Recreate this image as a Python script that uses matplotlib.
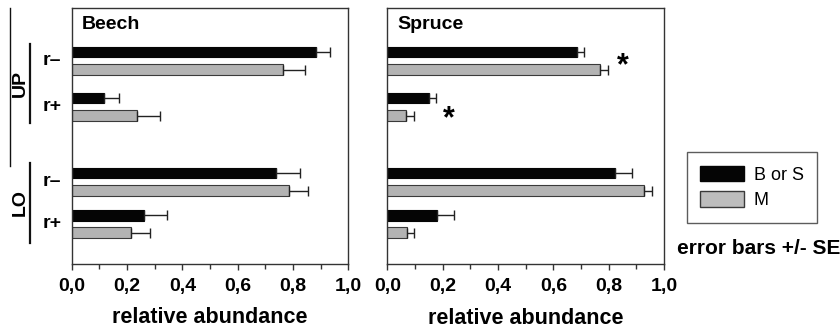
import numpy as np
import matplotlib
matplotlib.use('Agg')
from matplotlib import pyplot as plt
from matplotlib.patches import Patch
from matplotlib.lines import Line2D

plt.rcParams['font.family'] = ['Liberation Sans', 'DejaVu Sans']

# rows top to bottom: UP r-, UP r+, LO r-, LO r+
row_labels = ['r\u2013', 'r+', 'r\u2013', 'r+']
group_labels = ['UP', 'LO']
panels = ['Beech', 'Spruce']

beech_bs = [0.883, 0.118, 0.740, 0.261]
beech_bs_se = [0.052, 0.052, 0.084, 0.084]
beech_m = [0.763, 0.237, 0.786, 0.214]
beech_m_se = [0.080, 0.083, 0.069, 0.070]

spruce_bs = [0.685, 0.151, 0.824, 0.178]
spruce_bs_se = [0.025, 0.026, 0.062, 0.063]
spruce_m = [0.768, 0.068, 0.928, 0.072]
spruce_m_se = [0.031, 0.028, 0.027, 0.024]

# significance marks on spruce
star_x = [0.852, 0.224]

legend_labels = ['B or S', 'M']
black = '#050505'
grey = '#b3b3b3'
edge_grey = '#3a3a3a'

# layout: row centres in axis "pixel" units (0 = top of axes, 256 = bottom)
row_pos = np.array([52.5, 98.4, 173.5, 215.7])
star_y = [57.7, 111.4]
off = 8.8
bar_h = 10.7

fig = plt.figure(figsize=(8.4, 3.29), dpi=100)
ax_l = fig.add_axes([0.0854, 0.1967, 0.3293, 0.778])
ax_r = fig.add_axes([0.4611, 0.1967, 0.3294, 0.778])

data = [(beech_bs, beech_bs_se, beech_m, beech_m_se),
        (spruce_bs, spruce_bs_se, spruce_m, spruce_m_se)]

for ax, name, (bs, bs_se, m, m_se) in zip([ax_l, ax_r], panels, data):
    ax.barh(row_pos - off, bs, height=bar_h, color=black, edgecolor=black, linewidth=0.8,
            xerr=[np.zeros(4), bs_se], error_kw=dict(ecolor='#222222', elinewidth=1.0, capsize=3.5, capthick=1.0))
    ax.barh(row_pos + off, m, height=bar_h, color=grey, edgecolor=edge_grey, linewidth=0.8,
            xerr=[np.zeros(4), m_se], error_kw=dict(ecolor='#222222', elinewidth=1.0, capsize=3.5, capthick=1.0))
    ax.set_xlim(0, 1.0)
    ax.set_ylim(256, 0)
    ax.set_yticks([])
    ax.set_xticks(np.arange(0, 1.01, 0.2))
    ax.set_xticks(np.arange(0.1, 1.0, 0.2), minor=True)
    ax.set_xticklabels([f'{v:.1f}'.replace('.', ',') for v in np.arange(0, 1.01, 0.2)],
                       fontsize=14, fontweight='bold')
    ax.tick_params(axis='x', which='major', length=4, width=1, color='#333333', pad=6)
    ax.tick_params(axis='x', which='minor', length=3.5, width=1, color='#333333')
    for sp in ax.spines.values():
        sp.set_color('#333333')
        sp.set_linewidth(1.0)
    ax.text(0.036, 0.935, name, transform=ax.transAxes, fontsize=14, fontweight='bold',
            ha='left', va='center')

ax_l.set_xlabel('relative abundance', fontsize=15.5, fontweight='bold', labelpad=8.5)
ax_r.set_xlabel('relative abundance', fontsize=15.5, fontweight='bold', labelpad=9.2)

for sx, sy in zip(star_x, star_y):
    ax_r.text(sx, sy, '*', fontsize=22, fontweight='bold', ha='center', va='center')

# row and group labels on the left
for lab, yp in zip(row_labels, row_pos):
    fy = 1 - (8.3 + yp) / 329
    fig.text(52 / 840, fy, lab, fontsize=14, fontweight='bold', ha='center', va='center')

group_centre = [83.7, 203.0]
for lab, yc in zip(group_labels, group_centre):
    fig.text(20 / 840, 1 - yc / 329, lab, fontsize=14, fontweight='bold', rotation=90,
             ha='center', va='center')

for (y0, y1) in [(44, 123.3), (163.3, 242.7)]:
    fig.add_artist(Line2D([30 / 840, 30 / 840], [1 - y0 / 329, 1 - y1 / 329],
                          color='#111111', linewidth=1.6, transform=fig.transFigure))
fig.add_artist(Line2D([10 / 840, 10 / 840], [1 - 8.3 / 329, 1 - 165.7 / 329],
                      color='#111111', linewidth=1.0, transform=fig.transFigure))

handles = [Patch(facecolor=black, edgecolor=black, label=legend_labels[0]),
           Patch(facecolor='#bdbdbd', edgecolor=edge_grey, label=legend_labels[1])]
leg = fig.legend(handles=handles, loc='upper left', bbox_to_anchor=(686.7 / 840, 1 - 152.3 / 329),
                 fontsize=13, frameon=True, fancybox=False, edgecolor='#333333',
                 handlelength=2.4, handleheight=0.95, handletextpad=0.55, borderpad=0.75,
                 labelspacing=0.4, borderaxespad=0)
leg.get_frame().set_linewidth(1.0)

fig.text(676.7 / 840, 1 - 248 / 329, 'error bars +/- SE', fontsize=15, fontweight='bold',
         ha='left', va='center')

fig.savefig('out.png', dpi=100)
